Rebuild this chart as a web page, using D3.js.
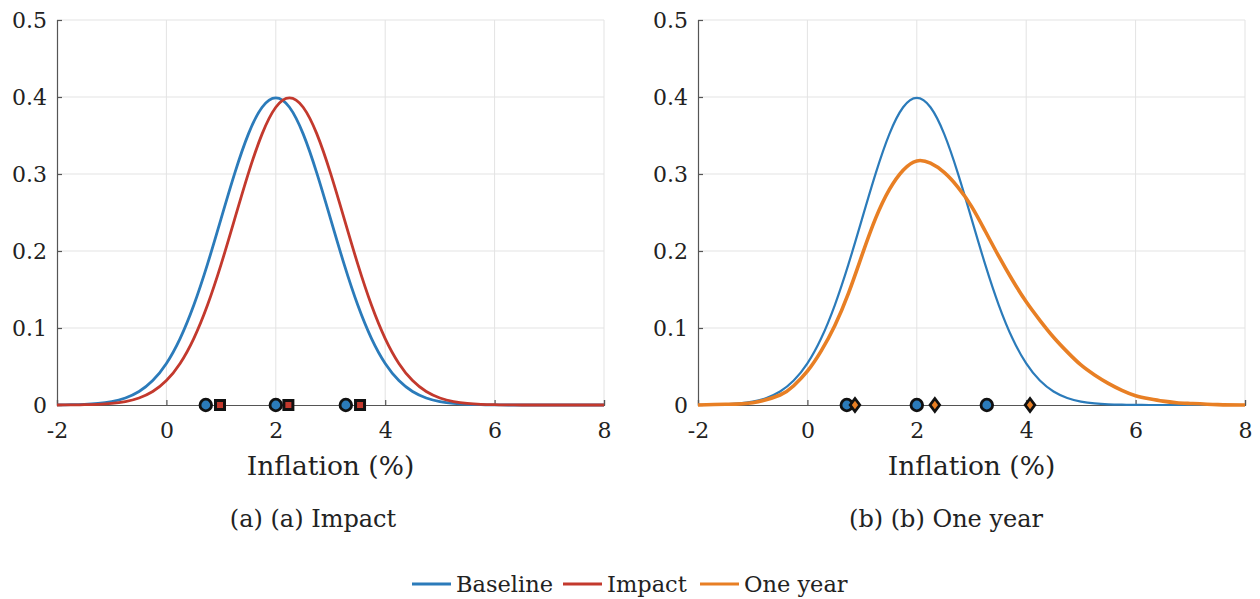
<!DOCTYPE html>
<html><head><meta charset="utf-8">
<script src="https://cdn.jsdelivr.net/npm/d3@7"></script>
<style>
html,body{margin:0;padding:0;background:#fff;}
svg{display:block;}
</style></head>
<body>
<svg id="chart" width="1260" height="599"></svg>
<script>
// ---- data ----
const xGrid = d3.range(-2, 8.0001, 0.25);
const baselineDensity = [0.0001,0.0004,0.0009,0.0020,0.0044,0.0091,0.0175,0.0317,0.0540,0.0863,0.1295,0.1826,0.2420,0.3011,0.3521,0.3867,0.3989,0.3867,0.3521,0.3011,0.2420,0.1826,0.1295,0.0863,0.0540,0.0317,0.0175,0.0091,0.0044,0.0020,0.0009,0.0004,0.0001,0,0,0,0,0,0,0,0];
const impactDensity = [0.0000,0.0001,0.0004,0.0009,0.0020,0.0044,0.0091,0.0175,0.0317,0.0540,0.0863,0.1295,0.1826,0.2420,0.3011,0.3521,0.3867,0.3989,0.3867,0.3521,0.3011,0.2420,0.1826,0.1295,0.0863,0.0540,0.0317,0.0175,0.0091,0.0044,0.0020,0.0009,0.0004,0.0001,0,0,0,0,0,0,0];
const oneYearX = [-2,-1.5,-1,-0.5,-0.25,0,0.25,0.5,0.75,1,1.25,1.5,1.75,2,2.25,2.5,2.75,3,3.25,3.5,3.75,4,4.25,4.5,4.75,5,5.25,5.5,5.75,6,6.25,6.5,6.75,7,7.5,8];
const oneYearDensity = [0,0.001,0.003,0.013,0.025,0.044,0.070,0.103,0.145,0.195,0.243,0.280,0.305,0.317,0.314,0.302,0.283,0.258,0.226,0.193,0.162,0.134,0.110,0.088,0.069,0.052,0.039,0.028,0.019,0.012,0.008,0.005,0.003,0.002,0.0005,0];
const baselineMarks = [0.72, 2.0, 3.28];
const impactMarks = [0.98, 2.23, 3.54];
const oneYearMarks = [0.87, 2.33, 4.07];
const xTicks = [-2, 0, 2, 4, 6, 8];
const xTickLabels = ["-2", "0", "2", "4", "6", "8"];
const yTicks = [0, 0.1, 0.2, 0.3, 0.4, 0.5];
const yTickLabels = ["0", "0.1", "0.2", "0.3", "0.4", "0.5"];
const xLabel = "Inflation (%)";
const captions = ["(a) (a) Impact", "(b) (b) One year"];
const legendItems = ["Baseline", "Impact", "One year"];

const colors = {Baseline:"#2b7bba", Impact:"#c3392d", "One year":"#e87f24"};
const FONT = "'DejaVu Serif', serif";

const svg = d3.select("#chart");
const panels = [{left:57, right:604, cap:313}, {left:698, right:1245, cap:946}];
const plotTop = 20, plotBottom = 405;

panels.forEach((p, i) => {
  const x = d3.scaleLinear().domain([-2, 8]).range([p.left, p.right]);
  const y = d3.scaleLinear().domain([0, 0.5]).range([plotBottom, plotTop]);
  const g = svg.append("g");
  // grid
  g.selectAll(".gx").data(xTicks.slice(1)).join("line")
    .attr("x1", d => x(d)).attr("x2", d => x(d)).attr("y1", plotTop).attr("y2", plotBottom)
    .attr("stroke", "#e3e3e3").attr("stroke-width", 1);
  g.selectAll(".gy").data(yTicks.slice(1)).join("line")
    .attr("x1", p.left).attr("x2", p.right).attr("y1", d => y(d)).attr("y2", d => y(d))
    .attr("stroke", "#e3e3e3").attr("stroke-width", 1);
  // axes
  const ax = g.append("g").attr("transform", `translate(0,${plotBottom})`)
    .call(d3.axisBottom(x).tickValues(xTicks).tickSize(-5).tickPadding(14).tickFormat((d, k) => xTickLabels[k]));
  const ay = g.append("g").attr("transform", `translate(${p.left},0)`)
    .call(d3.axisLeft(y).tickValues(yTicks).tickSize(-5).tickPadding(10).tickFormat((d, k) => yTickLabels[k]));
  [ax, ay].forEach(a => {
    a.attr("font-family", null);
    a.select(".domain").attr("stroke", "#555").attr("stroke-width", 1.2);
    a.selectAll(".tick line").attr("stroke", "#555").attr("stroke-width", 1.2);
    a.selectAll(".tick text").style("font-family", FONT).style("font-size", "22px")
      .attr("fill", "#222");
  });
  ax.selectAll(".tick text").attr("dy", "0.85em");
  // curves
  const line = d3.line().x(d => x(d[0])).y(d => y(d[1])).curve(d3.curveNatural);
  if (i === 0) {
    g.append("path").datum(xGrid.map((v, k) => [v, baselineDensity[k]]))
      .attr("d", line).attr("fill", "none").attr("stroke", colors.Baseline).attr("stroke-width", 2.8);
    g.append("path").datum(xGrid.map((v, k) => [v, impactDensity[k]]))
      .attr("d", line).attr("fill", "none").attr("stroke", colors.Impact).attr("stroke-width", 2.8);
  } else {
    g.append("path").datum(xGrid.map((v, k) => [v, baselineDensity[k]]))
      .attr("d", line).attr("fill", "none").attr("stroke", colors.Baseline).attr("stroke-width", 2.2);
    g.append("path").datum(oneYearX.map((v, k) => [v, oneYearDensity[k]]))
      .attr("d", line).attr("fill", "none").attr("stroke", colors["One year"]).attr("stroke-width", 3.6);
  }
  // markers
  const mk = g.append("g");
  mk.selectAll("circle").data(baselineMarks).join("circle")
    .attr("cx", d => x(d)).attr("cy", y(0)).attr("r", 5.8)
    .attr("fill", colors.Baseline).attr("stroke", "#111").attr("stroke-width", 2.8);
  if (i === 0) {
    mk.selectAll("rect").data(impactMarks).join("rect")
      .attr("x", d => x(d) - 4.5).attr("y", y(0) - 4.5).attr("width", 9).attr("height", 9)
      .attr("fill", colors.Impact).attr("stroke", "#111").attr("stroke-width", 3);
  } else {
    mk.selectAll("path").data(oneYearMarks).join("path")
      .attr("d", d => `M${x(d)},${y(0)-6.5}L${x(d)+4.8},${y(0)}L${x(d)},${y(0)+6.5}L${x(d)-4.8},${y(0)}Z`)
      .attr("fill", colors["One year"]).attr("stroke", "#111").attr("stroke-width", 2.8).attr("stroke-linejoin", "miter");
  }
  // labels
  const cx = (p.left + p.right) / 2;
  g.append("text").attr("x", cx).attr("y", 475).attr("text-anchor", "middle")
    .style("font-family", FONT).style("font-size", "26.5px")
    .attr("fill", "#222").text(xLabel);
  g.append("text").attr("x", p.cap).attr("y", 527).attr("text-anchor", "middle")
    .style("font-family", FONT).style("font-size", "24px")
    .attr("fill", "#222").text(captions[i]);
});

// legend
const lg = svg.append("g");
const legendPos = [412, 563, 700];
legendItems.forEach((name, k) => {
  const lx = legendPos[k];
  lg.append("line").attr("x1", lx).attr("x2", lx + 39).attr("y1", 584).attr("y2", 584)
    .attr("stroke", colors[name]).attr("stroke-width", 3);
  lg.append("text").attr("x", lx + 44).attr("y", 592)
    .style("font-family", FONT).style("font-size", "22.5px")
    .attr("fill", "#222").text(name);
});
</script>
</body></html>
